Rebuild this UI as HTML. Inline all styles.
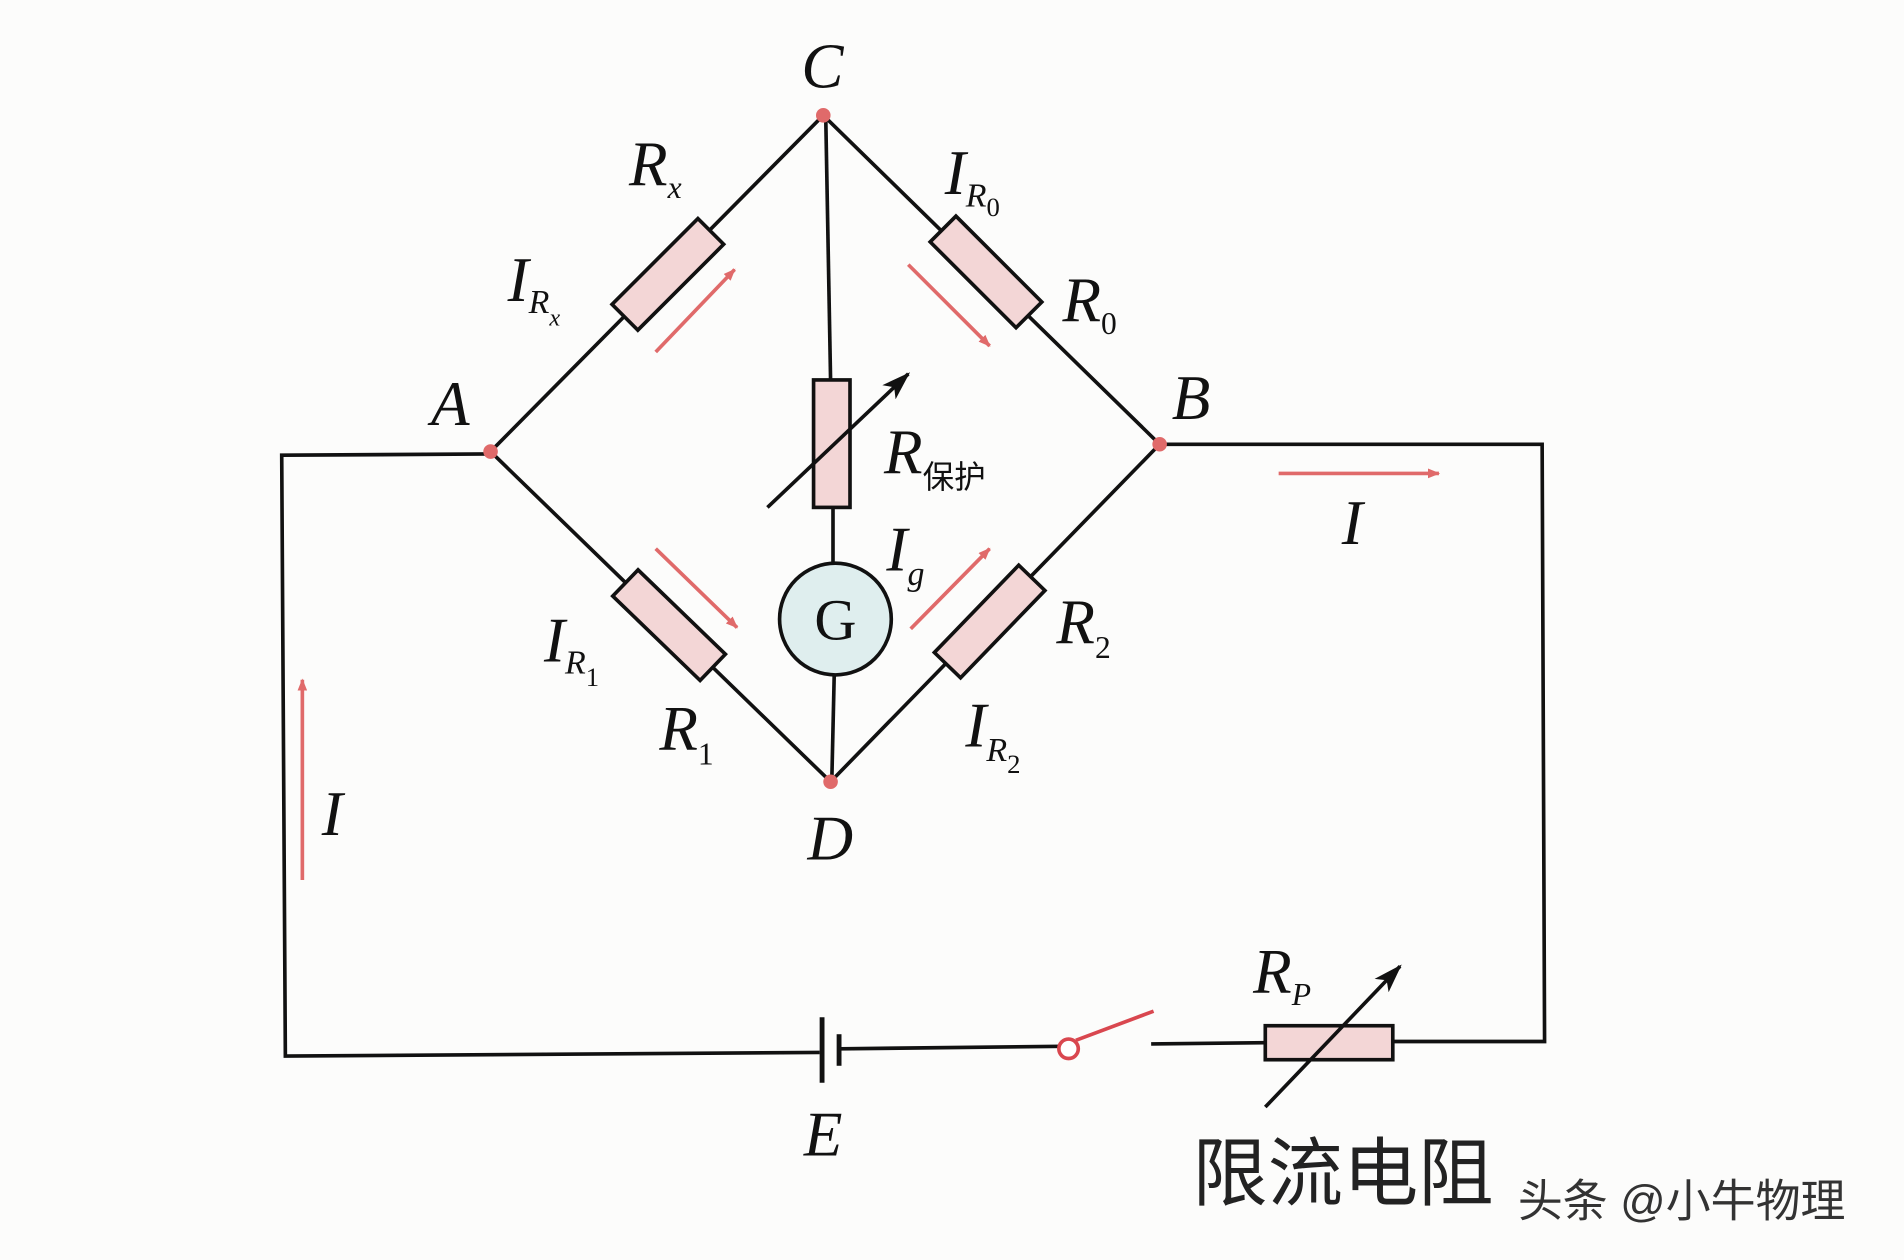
<!DOCTYPE html>
<html><head><meta charset="utf-8"><style>
html,body{margin:0;padding:0;background:#fcfcfb;}
svg{display:block;}
text{font-family:"Liberation Serif","Noto Serif CJK SC",serif;font-style:italic;fill:#111;}
.cn{font-family:"Liberation Sans","Noto Sans CJK SC",sans-serif;font-style:normal;}
</style></head><body>
<svg width="1904" height="1260" viewBox="0 0 1568 1038" preserveAspectRatio="none" xmlns="http://www.w3.org/2000/svg">
<defs>
<marker id="ar" markerWidth="10" markerHeight="8" refX="9" refY="4" orient="auto" markerUnits="userSpaceOnUse"><path d="M0,0 L10,4 L0,8 z" fill="#e06a6a"/></marker>
<marker id="ab" markerWidth="24" markerHeight="16" refX="22" refY="8" orient="auto" markerUnits="userSpaceOnUse"><path d="M0,0 L24,8 L0,16 L6,8 z" fill="#111"/></marker>
</defs>
<rect width="1568" height="1038" fill="#fcfcfb"/>
<g stroke="#111" stroke-width="3" fill="none">
<line x1="404" y1="372" x2="678" y2="95"/>
<line x1="678" y1="95" x2="955" y2="366"/>
<line x1="404" y1="372" x2="684" y2="644"/>
<line x1="955" y1="366" x2="684" y2="644"/>
<line x1="680" y1="95" x2="684" y2="313"/>
<line x1="686" y1="418" x2="686" y2="464"/>
<line x1="687" y1="556" x2="685" y2="644"/>
<polyline points="404,374 232,375 235,870 675,867"/>
<polyline points="692,864 875,862"/>
<line x1="886" y1="857" x2="950" y2="833" stroke="#d9474f"/>
<polyline points="948,860 1042,859"/>
<polyline points="1147,858 1272,858 1270,366 955,366"/>
</g>
<line x1="677" y1="838" x2="677" y2="892" stroke="#111" stroke-width="4"/>
<line x1="691" y1="852" x2="691" y2="878" stroke="#111" stroke-width="4"/>
<circle cx="880" cy="864" r="8" fill="#fff" stroke="#d9474f" stroke-width="3"/>
<g fill="#f3d6d6" stroke="#111" stroke-width="3">
<rect x="-50" y="-15" width="100" height="30" transform="translate(550,226) rotate(-45)"/>
<rect x="-50" y="-15" width="100" height="30" transform="translate(812,224) rotate(45)"/>
<rect x="-50" y="-15" width="100" height="30" transform="translate(551,515) rotate(44)"/>
<rect x="-50" y="-15" width="100" height="30" transform="translate(815,512) rotate(-46)"/>
<rect x="670" y="313" width="30" height="105"/>
<rect x="1042" y="845" width="105" height="28"/>
</g>
<line x1="632" y1="418" x2="748" y2="308" stroke="#111" stroke-width="3" marker-end="url(#ab)"/>
<line x1="1042" y1="912" x2="1153" y2="796" stroke="#111" stroke-width="3" marker-end="url(#ab)"/>
<circle cx="688" cy="510" r="46" fill="#dfeeee" stroke="#111" stroke-width="3"/>
<text x="688" y="527" text-anchor="middle" font-size="48" style="font-style:normal" font-family="Liberation Sans">G</text>
<g stroke="#e06a6a" stroke-width="3" marker-end="url(#ar)">
<line x1="540" y1="290" x2="605" y2="222"/>
<line x1="748" y1="218" x2="815" y2="285"/>
<line x1="540" y1="452" x2="607" y2="517"/>
<line x1="750" y1="518" x2="815" y2="452"/>
<line x1="1053" y1="390" x2="1185" y2="390"/>
<line x1="249" y1="725" x2="249" y2="560"/>
</g>
<g fill="#e06a6a"><circle cx="678" cy="95" r="6"/><circle cx="404" cy="372" r="6"/><circle cx="955" cy="366" r="6"/><circle cx="684" cy="644" r="6"/></g>
<g font-size="52">
<text x="660" y="72">C</text>
<text x="355" y="350">A</text>
<text x="965" y="345">B</text>
<text x="665" y="708">D</text>
<text x="662" y="952">E</text>
<text x="1105" y="448">I</text>
<text x="265" y="688">I</text>
<text x="518" y="153">R<tspan font-size="26" dy="10">x</tspan></text>
<text x="418" y="248">I<tspan font-size="28" dy="10">R</tspan><tspan font-size="20" dy="10">x</tspan></text>
<text x="778" y="160">I<tspan font-size="28" dy="10">R</tspan><tspan font-size="22" dy="8" style="font-style:normal">0</tspan></text>
<text x="875" y="265">R<tspan font-size="26" dy="10" style="font-style:normal">0</tspan></text>
<text x="728" y="390">R<tspan font-size="26" dy="12" class="cn">保护</tspan></text>
<text x="730" y="470">I<tspan font-size="28" dy="12">g</tspan></text>
<text x="448" y="545">I<tspan font-size="28" dy="10">R</tspan><tspan font-size="22" dy="10" style="font-style:normal">1</tspan></text>
<text x="543" y="618">R<tspan font-size="26" dy="12" style="font-style:normal">1</tspan></text>
<text x="870" y="530">R<tspan font-size="26" dy="12" style="font-style:normal">2</tspan></text>
<text x="795" y="615">I<tspan font-size="28" dy="12">R</tspan><tspan font-size="22" dy="10" style="font-style:normal">2</tspan></text>
<text x="1032" y="818">R<tspan font-size="26" dy="10">P</tspan></text>
</g>
<text x="982" y="988" font-size="62" class="cn" style="fill:#222">限流电阻</text>
<text x="1250" y="1002" font-size="37" class="cn" style="fill:#333">头条 @小牛物理</text>
</svg>
</body></html>
